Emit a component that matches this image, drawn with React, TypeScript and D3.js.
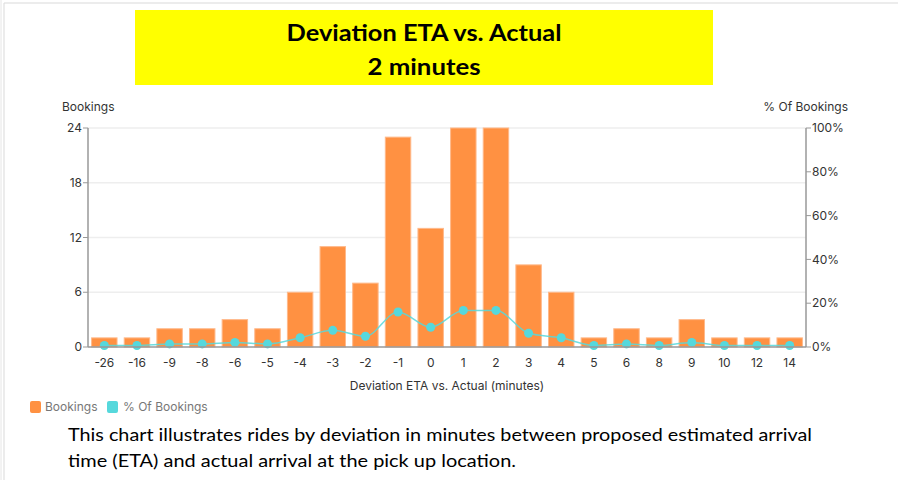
import React from 'react';
import * as d3 from 'd3';

// chart data
const categories = ['-26', '-16', '-9', '-8', '-6', '-5', '-4', '-3', '-2', '-1', '0', '1', '2', '3', '4', '5', '6', '8', '9', '10', '12', '14'];
const bookings = [1, 1, 2, 2, 3, 2, 6, 11, 7, 23, 13, 24, 24, 9, 6, 1, 2, 1, 3, 1, 1, 1];
const pctBookings = [0.7, 0.7, 1.4, 1.4, 2.1, 1.4, 4.2, 7.6, 4.9, 16.0, 9.0, 16.7, 16.7, 6.3, 4.2, 0.7, 1.4, 0.7, 2.1, 0.7, 0.7, 0.7];
const leftTicks = [0, 6, 12, 18, 24];
const rightTicks = [0, 20, 40, 60, 80, 100];

const W = 898;
const H = 480;
const margin = { left: 88, right: 806, top: 128, bottom: 347 };

const ORANGE = '#ff9142';
const TEAL = '#56d8dc';
const chartFont = 'Inter, "Noto Sans", sans-serif';

const App: React.FC = () => {
  const x = d3.scaleBand<string>()
    .domain(categories)
    .range([margin.left, margin.right])
    .paddingInner(0.22)
    .paddingOuter(0.11);

  const y = d3.scaleLinear().domain([0, 24]).range([margin.bottom, margin.top]);
  const yPct = d3.scaleLinear().domain([0, 100]).range([margin.bottom, margin.top]);

  const line = d3.line<number>()
    .x((_, i) => (x(categories[i]) ?? 0) + x.bandwidth() / 2)
    .y(d => yPct(d))
    .curve(d3.curveMonotoneX);

  return (
    <svg width={W} height={H} style={{ position: 'absolute', left: 0, top: 0, background: '#fff' }}>
      {/* page frame */}
      <line x1={4} y1={3} x2={W} y2={3} stroke="#d9d9d9" />
      <line x1={4} y1={3} x2={4} y2={H} stroke="#d9d9d9" />
      <line x1={1} y1={0} x2={1} y2={H} stroke="#e6e6e6" />

      {/* title box */}
      <rect x={135} y={10} width={578} height={75} fill="#ffff00" />
      <text x={424} y={41} textAnchor="middle" fontFamily="Lato, sans-serif" fontWeight="bold" fontSize={22}
        textLength={275} lengthAdjust="spacingAndGlyphs" fill="#000">Deviation ETA vs. Actual</text>
      <text x={424} y={75} textAnchor="middle" fontFamily="Lato, sans-serif" fontWeight="bold" fontSize={22}
        textLength={113} lengthAdjust="spacingAndGlyphs" fill="#000">2 minutes</text>

      {/* grid */}
      {leftTicks.slice(1).map(t => (
        <line key={'g' + t} x1={margin.left} x2={margin.right} y1={y(t)} y2={y(t)} stroke="#eeeeee" strokeWidth={1.5} />
      ))}

      {/* bars */}
      {bookings.map((v, i) => (
        <rect key={'b' + i} x={x(categories[i])} y={y(v)} width={x.bandwidth()} height={y(0) - y(v)}
          fill={ORANGE} stroke="#ffb98a" strokeWidth={1} />
      ))}

      {/* percentage line */}
      <path d={line(pctBookings) ?? ''} fill="none" stroke={TEAL} strokeWidth={1.5} opacity={0.85} />
      {pctBookings.map((v, i) => (
        <circle key={'p' + i} cx={(x(categories[i]) ?? 0) + x.bandwidth() / 2} cy={yPct(v)} r={4.5} fill={TEAL} />
      ))}

      {/* left axis */}
      <line x1={margin.left} x2={margin.left} y1={margin.top} y2={margin.bottom} stroke="#999" strokeWidth={1.5} />
      {leftTicks.map(t => (
        <g key={'l' + t}>
          <line x1={margin.left - 5} x2={margin.left} y1={y(t)} y2={y(t)} stroke="#999" />
          <text x={margin.left - 6} y={y(t)} dy="0.35em" textAnchor="end" fontFamily={chartFont} fontSize={12} fill="#333">{t}</text>
        </g>
      ))}
      <text x={62} y={111} fontFamily={chartFont} fontSize={12} fill="#333">Bookings</text>

      {/* right axis */}
      <line x1={margin.right} x2={margin.right} y1={margin.top} y2={margin.bottom} stroke="#999" strokeWidth={1.5} />
      {rightTicks.map(t => (
        <g key={'r' + t}>
          <line x1={margin.right} x2={margin.right + 5} y1={yPct(t)} y2={yPct(t)} stroke="#999" />
          <text x={margin.right + 6} y={yPct(t)} dy="0.35em" fontFamily={chartFont} fontSize={12} fill="#333">{t}%</text>
        </g>
      ))}
      <text x={848} y={111} textAnchor="end" fontFamily={chartFont} fontSize={12} fill="#333">% Of Bookings</text>

      {/* x axis */}
      <line x1={margin.left} x2={margin.right} y1={margin.bottom} y2={margin.bottom} stroke="#999" strokeWidth={1.5} />
      {categories.map(c => (
        <text key={'x' + c} x={(x(c) ?? 0) + x.bandwidth() / 2} y={367} textAnchor="middle"
          fontFamily={chartFont} fontSize={12} fill="#333">{c}</text>
      ))}
      <text x={447} y={390} textAnchor="middle" fontFamily={chartFont} fontSize={12} fill="#333">Deviation ETA vs. Actual (minutes)</text>

      {/* legend */}
      <rect x={30} y={401} width={11} height={12} rx={2} fill={ORANGE} />
      <text x={45} y={411} fontFamily={chartFont} fontSize={12} fill="#777">Bookings</text>
      <rect x={107} y={401} width={11} height={12} rx={2} fill={TEAL} />
      <text x={123} y={411} fontFamily={chartFont} fontSize={12} fill="#777">% Of Bookings</text>

      {/* description */}
      <text x={68} y={441} fontFamily="Lato, sans-serif" fontSize={18} fill="#000"
        textLength={744} lengthAdjust="spacingAndGlyphs">This chart illustrates rides by deviation in minutes between proposed estimated arrival</text>
      <text x={68} y={467} fontFamily="Lato, sans-serif" fontSize={18} fill="#000"
        textLength={448} lengthAdjust="spacingAndGlyphs">time (ETA) and actual arrival at the pick up location.</text>
    </svg>
  );
};

export default App;
